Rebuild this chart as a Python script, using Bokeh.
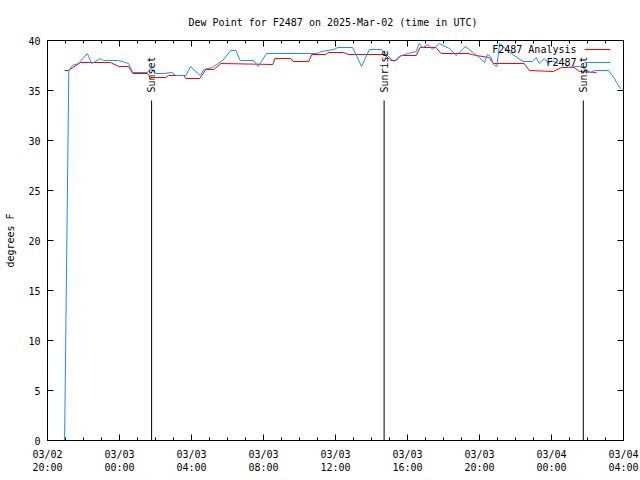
import math
import pandas as pd
from bokeh.plotting import figure
from bokeh.models import Range1d, FixedTicker, Label
from bokeh.embed import file_html
from bokeh.resources import INLINE

# ---------------- data ----------------
start_time = "2025-03-02 20:00"
end_time = "2025-03-04 04:00"

analysis_times = [
    "2025-03-02 20:57", "2025-03-02 21:10", "2025-03-02 21:50", "2025-03-02 23:30",
    "2025-03-02 23:57", "2025-03-03 00:30", "2025-03-03 00:44", "2025-03-03 01:33",
    "2025-03-03 01:44", "2025-03-03 02:34", "2025-03-03 02:44", "2025-03-03 03:34",
    "2025-03-03 03:41", "2025-03-03 04:28", "2025-03-03 04:48", "2025-03-03 05:14",
    "2025-03-03 05:38", "2025-03-03 08:31", "2025-03-03 08:38", "2025-03-03 09:31",
    "2025-03-03 09:38", "2025-03-03 10:31", "2025-03-03 10:41", "2025-03-03 11:28",
    "2025-03-03 11:35", "2025-03-03 12:28", "2025-03-03 12:42", "2025-03-03 14:42",
    "2025-03-03 15:05", "2025-03-03 15:22", "2025-03-03 15:39", "2025-03-03 16:29",
    "2025-03-03 16:42", "2025-03-03 17:35", "2025-03-03 17:52", "2025-03-03 19:22",
    "2025-03-03 19:49", "2025-03-03 20:32", "2025-03-03 20:46", "2025-03-03 22:29",
    "2025-03-03 22:46", "2025-03-04 00:06", "2025-03-04 00:33", "2025-03-04 01:16",
    "2025-03-04 01:33", "2025-03-04 02:30",
]
analysis_dewpt = [
    37.0, 37.0, 37.8, 37.8,
    37.4, 37.4, 36.7, 36.7,
    36.3, 36.3, 36.5, 36.5,
    36.2, 36.2, 37.1, 37.1,
    37.7, 37.6, 38.2, 38.2,
    37.9, 37.9, 38.6, 38.6,
    38.8, 38.8, 38.6, 38.6,
    38.0, 38.0, 38.5, 38.5,
    39.3, 39.3, 38.7, 38.7,
    38.5, 38.3, 37.7, 37.7,
    37.0, 36.9, 37.3, 37.3,
    36.9, 36.8,
]

obs_times = [
    "2025-03-02 20:57", "2025-03-02 21:11", "2025-03-02 21:23", "2025-03-02 21:43",
    "2025-03-02 22:13", "2025-03-02 22:27", "2025-03-02 22:57", "2025-03-02 23:07",
    "2025-03-02 23:57", "2025-03-03 00:30", "2025-03-03 00:44", "2025-03-03 01:33",
    "2025-03-03 01:44", "2025-03-03 02:01", "2025-03-03 02:27", "2025-03-03 02:56",
    "2025-03-03 03:07", "2025-03-03 03:41", "2025-03-03 03:57", "2025-03-03 04:29",
    "2025-03-03 04:41", "2025-03-03 05:10", "2025-03-03 05:38", "2025-03-03 05:44",
    "2025-03-03 06:11", "2025-03-03 06:28", "2025-03-03 06:42", "2025-03-03 07:28",
    "2025-03-03 07:42", "2025-03-03 08:10", "2025-03-03 11:00", "2025-03-03 11:12",
    "2025-03-03 11:55", "2025-03-03 12:08", "2025-03-03 12:57", "2025-03-03 13:27",
    "2025-03-03 13:53", "2025-03-03 14:32", "2025-03-03 15:15", "2025-03-03 15:32",
    "2025-03-03 16:01", "2025-03-03 16:29", "2025-03-03 16:39", "2025-03-03 16:51",
    "2025-03-03 17:09", "2025-03-03 17:24", "2025-03-03 17:46", "2025-03-03 17:58",
    "2025-03-03 18:20", "2025-03-03 18:42", "2025-03-03 19:13", "2025-03-03 19:43",
    "2025-03-03 20:00", "2025-03-03 20:17", "2025-03-03 20:26", "2025-03-03 20:37",
    "2025-03-03 20:47", "2025-03-03 20:58", "2025-03-03 21:07", "2025-03-03 21:18",
    "2025-03-03 21:46", "2025-03-03 22:25", "2025-03-03 22:56", "2025-03-03 23:09",
    "2025-03-03 23:19", "2025-03-03 23:36", "2025-03-03 23:49", "2025-03-03 23:59",
    "2025-03-04 00:23", "2025-03-04 00:43", "2025-03-04 00:56", "2025-03-04 01:16",
    "2025-03-04 01:33", "2025-03-04 01:50", "2025-03-04 02:10", "2025-03-04 02:23",
    "2025-03-04 03:10", "2025-03-04 03:20", "2025-03-04 03:30", "2025-03-04 03:37",
    "2025-03-04 03:47", "2025-03-04 03:53",
]
obs_dewpt = [
    0.0, 37.0, 37.5, 37.7,
    38.7, 37.7, 38.2, 38.0,
    38.0, 37.7, 36.8, 36.8,
    37.2, 36.7, 36.7, 36.8,
    36.5, 36.5, 37.4, 36.5,
    37.1, 37.3, 37.9, 38.0,
    39.0, 39.0, 38.0, 38.0,
    37.4, 38.7, 38.7, 38.9,
    39.1, 39.3, 39.3, 37.4,
    39.1, 39.1, 37.9, 38.4,
    38.7, 38.9, 39.7, 39.3,
    39.6, 39.1, 39.7, 39.5,
    39.2, 38.5, 39.4, 38.7,
    38.3, 37.8, 38.6, 38.4,
    37.6, 37.4, 39.7, 39.4,
    38.7, 37.9, 37.9, 38.3,
    37.7, 38.2, 37.7, 38.0,
    37.7, 37.7, 37.3, 37.4,
    37.4, 37.2, 36.8, 37.0,
    37.0, 36.6, 36.2, 35.8,
    35.3, 35.2,
]

sun_events = ["Sunset", "Sunrise", "Sunset"]
sun_times = ["2025-03-03 01:47", "2025-03-03 14:42", "2025-03-04 01:46"]

y_ticks = [0, 5, 10, 15, 20, 25, 30, 35, 40]
x_tick_step_hours = 4

# ---------------- helpers ----------------
t0 = pd.Timestamp(start_time)
t1 = pd.Timestamp(end_time)


def hours(ts_list):
    return [(pd.Timestamp(t) - t0) / pd.Timedelta(hours=1) for t in ts_list]


span_h = (t1 - t0) / pd.Timedelta(hours=1)
y_max = 40

FONT = "DejaVu Sans Mono"
RED = "#ff0000"
BLUE = "#1a8cff"

L, R, T, B = 47, 17, 40, 40
FW, FH = 640 - L - R, 480 - T - B

p = figure(
    width=640, height=480,
    frame_width=FW, frame_height=FH,
    min_border_left=L, min_border_right=R, min_border_top=T, min_border_bottom=B,
    x_range=Range1d(0, span_h), y_range=Range1d(0, y_max),
    output_backend="svg", toolbar_location=None,
    title="Dew Point for F2487 on 2025-Mar-02 (time in UTC)",
)
p.title.align = "left"
p.title.offset = 141
p.title.text_font = FONT
p.title.text_font_size = "10px"
p.title.text_font_style = "normal"
p.title.text_color = "black"
p.title.standoff = 26

p.background_fill_color = "white"
p.border_fill_color = "white"
p.grid.visible = False
p.outline_line_color = "black"
p.outline_line_width = 1

major = list(range(0, int(span_h) + 1, x_tick_step_hours))
minor = list(range(0, int(span_h) + 1))
overrides = {}
for h in major:
    ts = t0 + pd.Timedelta(hours=h)
    overrides[h] = ts.strftime("%m/%d") + "\n" + ts.strftime("%H:%M")

xa = p.xaxis[0]
xa.ticker = FixedTicker(ticks=major, minor_ticks=minor)
xa.major_label_overrides = overrides
ya = p.yaxis[0]
ya.ticker = FixedTicker(ticks=y_ticks, minor_ticks=[])
ya.axis_label = "degrees F"

for ax in (xa, ya):
    ax.axis_line_color = None
    ax.major_tick_in = 6
    ax.major_tick_out = 0
    ax.minor_tick_in = 3
    ax.minor_tick_out = 0
    ax.major_tick_line_color = "black"
    ax.minor_tick_line_color = "black"
    ax.major_label_text_font = FONT
    ax.major_label_text_font_size = "10px"
    ax.major_label_text_color = "black"
    ax.axis_label_text_font = FONT
    ax.axis_label_text_font_size = "10px"
    ax.axis_label_text_font_style = "normal"
    ax.axis_label_text_color = "black"
xa.major_label_standoff = 8
ya.major_label_standoff = 7
ya.axis_label_standoff = 9

# mirrored ticks on the top and right frame edges (gnuplot style)
def px_to_h(px):
    return (px - L) / FW * span_h


def py_to_v(py):
    return (T + FH - py) / FH * y_max


dx_major = 6 / FW * span_h
dy_major = 6 / FH * y_max
dy_minor = 3 / FH * y_max
tx = [h for h in minor]
tlen = [dy_major if h in major else dy_minor for h in minor]
p.segment(x0=tx, y0=[y_max] * len(tx), x1=tx, y1=[y_max - d for d in tlen],
          line_color="black", line_width=1)
p.segment(x0=[span_h] * len(y_ticks), y0=y_ticks,
          x1=[span_h - dx_major] * len(y_ticks), y1=y_ticks,
          line_color="black", line_width=1)

# data lines
p.line(hours(analysis_times), analysis_dewpt, line_color=RED, line_width=1)
p.line(hours(obs_times), obs_dewpt, line_color=BLUE, line_width=1)

# sun event markers
sun_h = hours(sun_times)
p.segment(x0=sun_h, y0=[0] * 3, x1=sun_h, y1=[34] * 3, line_color="black", line_width=1)
for name, h in zip(sun_events, sun_h):
    p.add_layout(Label(x=h, y=34.8, text=name, angle=math.pi / 2,
                       text_align="left", text_baseline="middle",
                       text_font=FONT, text_font_size="10px", text_color="black"))

# legend (drawn manually: label left of sample line, like gnuplot)
legend_items = [("F2487 Analysis", RED, 49), ("F2487", BLUE, 62)]
for text, color, py in legend_items:
    v = py_to_v(py)
    p.add_layout(Label(x=px_to_h(576), y=v, text=text, text_align="right",
                       text_baseline="middle", text_font=FONT,
                       text_font_size="10px", text_color="black"))
    p.line([px_to_h(584), px_to_h(610)], [v, v], line_color=color, line_width=1)

open("out.html", "w").write(file_html(p, INLINE))
